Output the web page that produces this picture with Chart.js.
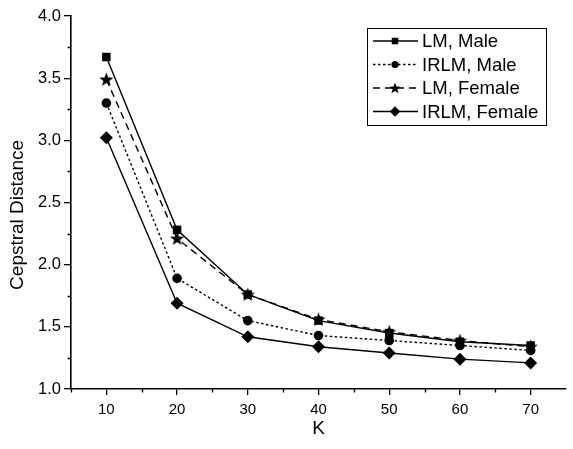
<!DOCTYPE html>
<html>
<head>
<meta charset="utf-8">
<script src="https://cdn.jsdelivr.net/npm/chart.js@4/dist/chart.umd.min.js"></script>
<style>
  html, body { margin: 0; padding: 0; background: #fff; }
  #wrap { width: 573px; height: 449px; }
</style>
</head>
<body>
<div id="wrap"><canvas id="chart"></canvas></div>
<script>
// data
const kValues = [10, 20, 30, 40, 50, 60, 70];
const lmMale = [3.67, 2.28, 1.76, 1.55, 1.45, 1.38, 1.35];
const irlmMale = [3.30, 1.89, 1.55, 1.43, 1.39, 1.35, 1.31];
const lmFemale = [3.49, 2.21, 1.76, 1.56, 1.46, 1.39, 1.34];
const irlmFemale = [3.02, 1.69, 1.42, 1.34, 1.29, 1.24, 1.21];
const seriesNames = ['LM, Male', 'IRLM, Male', 'LM, Female', 'IRLM, Female'];
const xMajorTicks = [10, 20, 30, 40, 50, 60, 70];
const xMinorTicks = [5, 15, 25, 35, 45, 55, 65];
const yMinorTicks = [1.25, 1.75, 2.25, 2.75, 3.25, 3.75];
const yTitle = 'Cepstral Distance';

const FONT = 'Arial, "Liberation Sans", sans-serif';

// filled five point star, chart.js 'star' is only stroked
function makeStar(outer, inner) {
	const size = Math.ceil(outer * 2 + 2);
	const c = document.createElement('canvas');
	c.width = size;
	c.height = size;
	const g = c.getContext('2d');
	g.fillStyle = '#000';
	g.beginPath();
	for (let i = 0; i < 10; i++) {
		const r = i % 2 == 0 ? outer : inner;
		const a = -Math.PI / 2 + i * Math.PI / 5;
		const px = size / 2 + r * Math.cos(a);
		const py = size / 2 + 0.5 + r * Math.sin(a);
		if (i == 0) g.moveTo(px, py); else g.lineTo(px, py);
	}
	g.closePath();
	g.fill();
	return c;
}
const starBig = makeStar(7.5, 3.1);
const starSmall = makeStar(6, 2.5);

function toPoints(ys) {
	return kValues.map(function(k, i) { return {x: k, y: ys[i]}; });
}

function series(label, ys, pointStyle, radius, dash, legendStyle, legendRadius) {
	return {
		label: label,
		data: toPoints(ys),
		borderColor: '#000',
		backgroundColor: '#000',
		borderWidth: 1.4,
		borderDash: dash,
		pointStyle: pointStyle,
		pointRadius: radius,
		pointBorderWidth: 0,
		pointBackgroundColor: '#000',
		tension: 0,
		legendStyle: legendStyle,
		legendRadius: legendRadius
	};
}

// minor ticks, shorter than the major ones, plus the y title
// (the title sits a bit below the middle of the axis in the original)
const axisExtras = {
	id: 'axisExtras',
	afterDraw: function(chart) {
		const ctx = chart.ctx;
		const xs = chart.scales.x;
		const ys = chart.scales.y;
		ctx.save();
		ctx.strokeStyle = '#000';
		ctx.lineWidth = 1.3;
		ctx.beginPath();
		yMinorTicks.forEach(function(v) {
			const py = Math.round(ys.getPixelForValue(v)) + 0.5;
			ctx.moveTo(ys.right, py);
			ctx.lineTo(ys.right - 3.5, py);
		});
		xMinorTicks.forEach(function(v) {
			const px = Math.round(xs.getPixelForValue(v)) + 0.5;
			ctx.moveTo(px, xs.top);
			ctx.lineTo(px, xs.top + 3.5);
		});
		ctx.stroke();

		ctx.translate(18, ys.getPixelForValue(2.4));
		ctx.rotate(-Math.PI / 2);
		ctx.font = '19px ' + FONT;
		ctx.fillStyle = '#000';
		ctx.textAlign = 'center';
		ctx.textBaseline = 'middle';
		ctx.fillText(yTitle, 0, 0);
		ctx.restore();
	}
};

// boxed legend with line samples and markers
const boxLegend = {
	id: 'boxLegend',
	afterDraw: function(chart) {
		const ctx = chart.ctx;
		const area = chart.chartArea;
		const left = area.left + 296;
		const top = area.top + 12;
		const width = 179;
		const height = 97;
		const rowH = 23.5;
		ctx.save();
		ctx.strokeStyle = '#000';
		ctx.lineWidth = 1;
		ctx.strokeRect(left + 0.5, top + 0.5, width, height);
		ctx.font = '18.5px ' + FONT;
		ctx.textBaseline = 'middle';
		ctx.fillStyle = '#000';
		chart.data.datasets.forEach(function(ds, i) {
			const y = top + 13 + i * rowH;
			ctx.save();
			ctx.lineWidth = 1.3;
			ctx.setLineDash(ds.borderDash);
			ctx.beginPath();
			ctx.moveTo(left + 6, y);
			ctx.lineTo(left + 51, y);
			ctx.stroke();
			ctx.restore();
			Chart.helpers.drawPoint(ctx, {
				pointStyle: ds.legendStyle,
				radius: ds.legendRadius,
				rotation: 0,
				borderWidth: 0
			}, left + 28, y);
			ctx.fillText(ds.label, left + 55, y + 1);
		});
		ctx.restore();
	}
};

new Chart(document.getElementById('chart'), {
	type: 'line',
	data: {
		datasets: [
			series(seriesNames[0], lmMale, 'rect', 6, [], 'rect', 4.6),
			series(seriesNames[1], irlmMale, 'circle', 4.8, [2.5, 2.5], 'circle', 3.6),
			series(seriesNames[2], lmFemale, starBig, 7, [7, 5], starSmall, 6),
			series(seriesNames[3], irlmFemale, 'rectRot', 6.5, [], 'rectRot', 5.2)
		]
	},
	options: {
		responsive: true,
		maintainAspectRatio: false,
		animation: false,
		events: [],
		layout: { padding: { top: 16, right: 0, left: 0, bottom: 0 } },
		plugins: {
			legend: { display: false },
			tooltip: { enabled: false }
		},
		scales: {
			x: {
				type: 'linear',
				min: 5,
				max: 75,
				afterBuildTicks: function(scale) {
					scale.ticks = xMajorTicks.map(function(v) { return {value: v}; });
				},
				afterFit: function(scale) { scale.height = 60; },
				border: { display: true, color: '#000', width: 1.6 },
				grid: { drawOnChartArea: false, drawTicks: true, tickLength: 6, color: '#000', lineWidth: 1.3 },
				ticks: { color: '#000', font: { family: FONT, size: 15 }, padding: 6, maxRotation: 0 },
				title: { display: true, text: 'K', color: '#000', font: { family: FONT, size: 19 }, padding: { top: 4, bottom: 9 } }
			},
			y: {
				min: 1,
				max: 4,
				afterFit: function(scale) { scale.width = 71; },
				border: { display: true, color: '#000', width: 1.6 },
				grid: { drawOnChartArea: false, drawTicks: true, tickLength: 7, color: '#000', lineWidth: 1.3 },
				ticks: {
					stepSize: 0.5,
					color: '#000',
					font: { family: FONT, size: 16.5 },
					padding: 3,
					callback: function(v) { return v.toFixed(1); }
				},
				title: { display: false }
			}
		}
	},
	plugins: [axisExtras, boxLegend]
});
</script>
</body>
</html>
